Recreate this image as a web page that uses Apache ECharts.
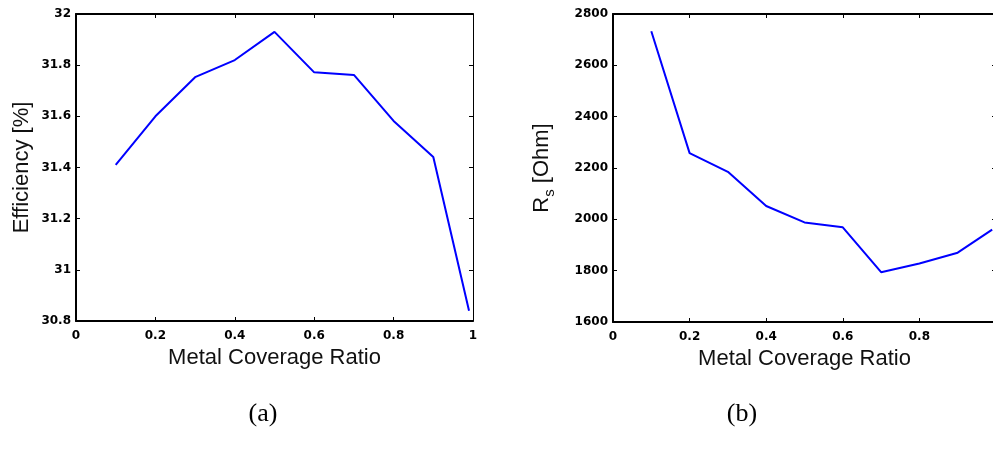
<!DOCTYPE html>
<html>
<head>
<meta charset="utf-8">
<script src="https://cdn.jsdelivr.net/npm/echarts@6/dist/echarts.min.js"></script>
<style>
html,body{margin:0;padding:0;background:#fff;overflow:hidden;}
#c{width:993px;height:456px;}
</style>
</head>
<body>
<div id="c"></div>
<script>
// ---- data ----
var coverageA = [0.1, 0.2, 0.3, 0.4, 0.5, 0.6, 0.7, 0.8, 0.9, 0.99];
var efficiency = [31.41, 31.60, 31.753, 31.82, 31.93, 31.772, 31.762, 31.582, 31.441, 30.84];
var coverageB = [0.1, 0.2, 0.3, 0.4, 0.5, 0.6, 0.7, 0.8, 0.9, 0.99];
var rs = [2733, 2258, 2185, 2052, 1988, 1969, 1794, 1828, 1870, 1960];
var xTickLabels = ['0', '0.2', '0.4', '0.6', '0.8', '1'];
var yTickLabelsA = ['30.8', '31', '31.2', '31.4', '31.6', '31.8', '32'];
var yTickLabelsB = ['1600', '1800', '2000', '2200', '2400', '2600', '2800'];
var xName = 'Metal Coverage Ratio';
var yNameA = 'Efficiency [%]';
var captionA = '(a)';
var captionB = '(b)';

function pairs(xs, ys) { return xs.map(function (x, i) { return [x, ys[i]]; }); }
function lookup(labels, min, step) {
  return function (v) {
    var i = Math.round((v - min) / step);
    return labels[i] !== undefined ? labels[i] : '';
  };
}

var chart = echarts.init(document.getElementById('c'), null, {renderer: 'canvas'});
var tickFont = {color: '#000', fontFamily: 'DejaVu Sans', fontWeight: 'bold', fontSize: 12};
var nameFont = {color: '#111', fontFamily: 'Liberation Sans, Arial', fontSize: 22};

function xAxes(gi) {
  return [{
    type: 'value', gridIndex: gi, position: 'bottom', min: 0, max: 1, interval: 0.2,
    name: xName, nameLocation: 'middle', nameGap: 23, nameTextStyle: nameFont,
    axisLine: {show: true, onZero: false, lineStyle: {color: '#000', width: 2}},
    axisTick: {show: true, inside: true, length: 4, lineStyle: {color: '#000', width: 1}},
    axisLabel: Object.assign({margin: 9, formatter: lookup(xTickLabels, 0, 0.2)}, tickFont),
    splitLine: {show: false}
  }, {
    type: 'value', gridIndex: gi, position: 'top', min: 0, max: 1, interval: 0.2,
    axisLine: {show: true, onZero: false, lineStyle: {color: '#000', width: 2}},
    axisTick: {show: true, inside: true, length: 4, lineStyle: {color: '#000', width: 1}},
    axisLabel: {show: false}, splitLine: {show: false}
  }];
}
function yAxes(gi, min, max, step, labels, name, nameGap) {
  return [{
    type: 'value', gridIndex: gi, position: 'left', min: min, max: max, interval: step,
    name: name, nameLocation: 'middle', nameGap: nameGap, nameRotate: 90,
    nameTextStyle: nameFont,
    axisLine: {show: true, onZero: false, lineStyle: {color: '#000', width: 2}},
    axisTick: {show: true, inside: true, length: 4, lineStyle: {color: '#000', width: 1}},
    axisLabel: Object.assign({margin: 5, formatter: lookup(labels, min, step)}, tickFont),
    splitLine: {show: false}
  }, {
    type: 'value', gridIndex: gi, position: 'right', min: min, max: max, interval: step,
    axisLine: {show: true, onZero: false, lineStyle: {color: '#000', width: 1}},
    axisTick: {show: true, inside: true, length: 4, lineStyle: {color: '#000', width: 1}},
    axisLabel: {show: false}, splitLine: {show: false}
  }];
}

var xa = xAxes(0).concat(xAxes(1));
var ya = yAxes(0, 30.8, 32, 0.2, yTickLabelsA, yNameA, 43)
  .concat(yAxes(1, 1600, 2800, 200, yTickLabelsB,
    '{r|R}{s|s}{r| [Ohm]}', 56));
ya[2].nameTextStyle = Object.assign({}, nameFont, {
  rich: {
    r: {fontFamily: 'Liberation Sans, Arial', fontSize: 22, color: '#111', lineHeight: 30, verticalAlign: 'middle'},
    s: {fontFamily: 'Liberation Sans, Arial', fontSize: 15, color: '#111', lineHeight: 14, verticalAlign: 'bottom'}
  }
});

chart.setOption({
  animation: false,
  backgroundColor: '#fff',
  grid: [
    {left: 76, top: 14, width: 397, height: 307, containLabel: false, outerBoundsMode: 'none'},
    {left: 613, top: 14, width: 383, height: 308, containLabel: false, outerBoundsMode: 'none'}
  ],
  xAxis: xa,
  yAxis: ya,
  series: [{
    type: 'line', xAxisIndex: 0, yAxisIndex: 0, data: pairs(coverageA, efficiency),
    showSymbol: false, symbol: 'none', lineStyle: {color: '#0000ff', width: 2}, itemStyle: {color: '#0000ff'}
  }, {
    type: 'line', xAxisIndex: 2, yAxisIndex: 2, data: pairs(coverageB, rs),
    showSymbol: false, symbol: 'none', lineStyle: {color: '#0000ff', width: 2}, itemStyle: {color: '#0000ff'}
  }],
  graphic: [{
    type: 'text', x: 263, y: 414,
    style: {text: captionA, font: '26px "Liberation Serif", "Times New Roman", serif', fill: '#000', textAlign: 'center', textVerticalAlign: 'middle'}
  }, {
    type: 'text', x: 742, y: 414,
    style: {text: captionB, font: '26px "Liberation Serif", "Times New Roman", serif', fill: '#000', textAlign: 'center', textVerticalAlign: 'middle'}
  }]
});
</script>
</body>
</html>
